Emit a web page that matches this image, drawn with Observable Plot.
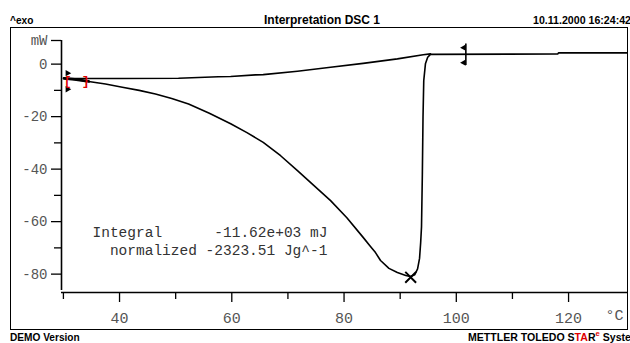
<!DOCTYPE html>
<html><head><meta charset="utf-8">
<script src="https://cdn.jsdelivr.net/npm/d3@7"></script>
<script src="https://cdn.jsdelivr.net/npm/@observablehq/plot@0.6"></script>
<style>
body{margin:0;background:#fff;}
#wrap{position:relative;width:630px;height:343px;overflow:hidden;background:#fff;}
#wrap svg{position:absolute;left:0;top:0;}
.hdr{position:absolute;font-family:"Liberation Sans",Arial,sans-serif;font-size:11px;font-weight:bold;color:#000;white-space:nowrap;line-height:12px;transform-origin:0 50%;}
#frame{position:absolute;left:10px;top:27px;width:618px;height:303px;border:1.5px solid #000;box-sizing:border-box;}
svg text{white-space:pre;}
</style>
</head><body>
<div id="wrap">
  <div id="frame"></div>
  <div class="hdr" style="left:10px;top:14px;transform:scaleX(0.92);">^exo</div>
  <div class="hdr" style="left:322px;top:14px;font-size:12px;transform:translateX(-50%);">Interpretation DSC 1</div>
  <div class="hdr" style="left:533px;top:14px;transform:scaleX(0.965);">10.11.2000 16:24:42</div>
  <div class="hdr" style="left:10px;top:331px;transform:scaleX(0.92);">DEMO Version</div>
  <div class="hdr" style="left:468px;top:331px;transform:scaleX(0.96);">METTLER TOLEDO S<span style="color:#e00000">TA</span>R<sup style="color:#e00000;font-size:8px;line-height:0">e</sup> System</div>
</div>
<script>
// Sample curve (DSC signal, mW) vs temperature (°C)
const sampleT = [30.1, 32, 34.5, 37.5, 40.5, 43.5, 46.4, 49.3, 52.3, 56, 59.8, 62.7, 65.6, 68.7, 71.7, 74.6, 77.6, 80.5, 83.4, 84.6, 85.6, 86.5, 88, 89.5, 91, 91.8, 92.6, 93.1, 93.45, 93.65, 93.8, 93.95, 94.07, 94.2, 94.5, 94.9, 95.4, 118.1, 118.2, 130.4];
const sampleV = [-5.4, -5.8, -6.6, -7.6, -8.8, -10.0, -11.4, -13.1, -15.2, -18.7, -22.7, -26.1, -29.8, -34.9, -40.6, -46.2, -52.0, -58.5, -66.0, -69.2, -71.8, -74.8, -77.8, -79.4, -80.5, -80.9, -80.2, -78, -74, -68, -62, -42, -20, -6.3, 0.1, 2.6, 3.7, 3.9, 4.27, 4.27];
// Integration baseline
const baseT = [30.1, 40, 50.5, 57.6, 59.8, 64.2, 65.6, 71.7, 77.6, 83.4, 89.5, 94.1, 95.4];
const baseV = [-5.5, -5.5, -5.4, -4.8, -4.7, -4.1, -4.0, -2.7, -1.2, 0.3, 2.0, 3.6, 3.9];
// Integration limits markers
const leftLimitT = 30.73, leftLimitV = [-3.43, -9.6];
const rightLimitT = 101.34, rightLimitV = [6.28, 0.57];
const rightLimitLineT = 101.7, rightLimitLineV = [7.65, -0.57];
const bracketT = [30.75, 33.95], bracketV = -6.29, bracketLabels = ["[", "]"];
const peakT = 91.87, peakV = -81.2;
// Ticks
const xDomain = [29.66, 130.5];
const yDomain = [-87, 9];
const xMajorTicks = [40, 60, 80, 100, 120];
const xMinorTicks = [30, 50, 70, 90, 110];
const yMajorTicks = [0, -20, -40, -60, -80];
const yMinorTicks = [-10, -30, -50, -70];
const yUnitTick = 9, yUnitLabel = "mW", xUnitLabel = "°C";
// Annotation
const annotT = 35.18, annotV = -67.2;
const annotLines = ["Integral      -11.62e+03 mJ", "  normalized -2323.51 Jg^-1"];

const sample = sampleT.map((t, i) => ({t, v: sampleV[i]}));
const base = baseT.map((t, i) => ({t, v: baseV[i]}));
const mono = "Liberation Mono, Courier New, monospace";

const chart = Plot.plot({
  width: 630, height: 343,
  marginLeft: 61, marginRight: 3, marginTop: 40, marginBottom: 51,
  style: {background: "transparent", fontFamily: mono},
  x: {domain: xDomain, label: null},
  y: {domain: yDomain, label: null},
  marks: [
    Plot.axisY({ticks: [yUnitTick, ...yMajorTicks], label: null, tickSize: 10, tickPadding: 4, strokeWidth: 1.3,
      tickFormat: d => d === yUnitTick ? yUnitLabel : `${d}`, fontSize: 14, fill: "#555", fontFamily: mono}),
    Plot.axisY({ticks: yMinorTicks, label: null, tickSize: 7, strokeWidth: 1.3, tickFormat: () => ""}),
    Plot.axisX({ticks: xMajorTicks, label: null, tickSize: 10, tickPadding: 10, strokeWidth: 1.3,
      tickFormat: d => `${d}`, fontSize: 15, fill: "#555", fontFamily: mono}),
    Plot.axisX({ticks: xMinorTicks, label: null, tickSize: 7, strokeWidth: 1.3, tickFormat: () => ""}),
    Plot.text([xUnitLabel], {frameAnchor: "bottom-right", dx: -4, dy: 27, textAnchor: "end", fontSize: 15, fill: "#555", fontFamily: mono}),
    Plot.ruleX([xDomain[0]], {y1: yDomain[0], y2: yDomain[1], strokeWidth: 1.6, insetTop: -2}),
    Plot.ruleY([yDomain[0]], {strokeWidth: 1.6}),
    Plot.line(base, {x: "t", y: "v", stroke: "black", strokeWidth: 1.6}),
    Plot.line(sample, {x: "t", y: "v", stroke: "black", strokeWidth: 1.6}),
    Plot.line(sample.slice(0, 3), {x: "t", y: "v", stroke: "black", strokeWidth: 2.8}),
    Plot.ruleX([rightLimitLineT], {y1: rightLimitLineV[0], y2: rightLimitLineV[1], strokeWidth: 1.6}),
    Plot.dot(rightLimitV, {x: () => rightLimitT, y: d => d, symbol: "triangle", rotate: -90, r: 2.4, fill: "black", stroke: "none"}),
    Plot.dot(leftLimitV, {x: () => leftLimitT, y: d => d, symbol: "triangle", rotate: 90, r: 2.4, fill: "black", stroke: "none"}),
    Plot.text(bracketLabels, {x: (d, i) => bracketT[i], y: () => bracketV, text: d => d, fill: "#e00000", fontSize: 13, fontWeight: "bold", fontFamily: mono}),
    Plot.dot([{t: peakT, v: peakV}], {x: "t", y: "v", symbol: "times", r: 5, stroke: "black", strokeWidth: 2}),
    Plot.text([annotLines.join("\n")], {x: () => annotT, y: () => annotV, textAnchor: "start", lineHeight: 1.25, fontSize: 14.5, fill: "#333", fontFamily: mono})
  ]
});
document.getElementById("wrap").prepend(chart);
</script>
</body></html>
